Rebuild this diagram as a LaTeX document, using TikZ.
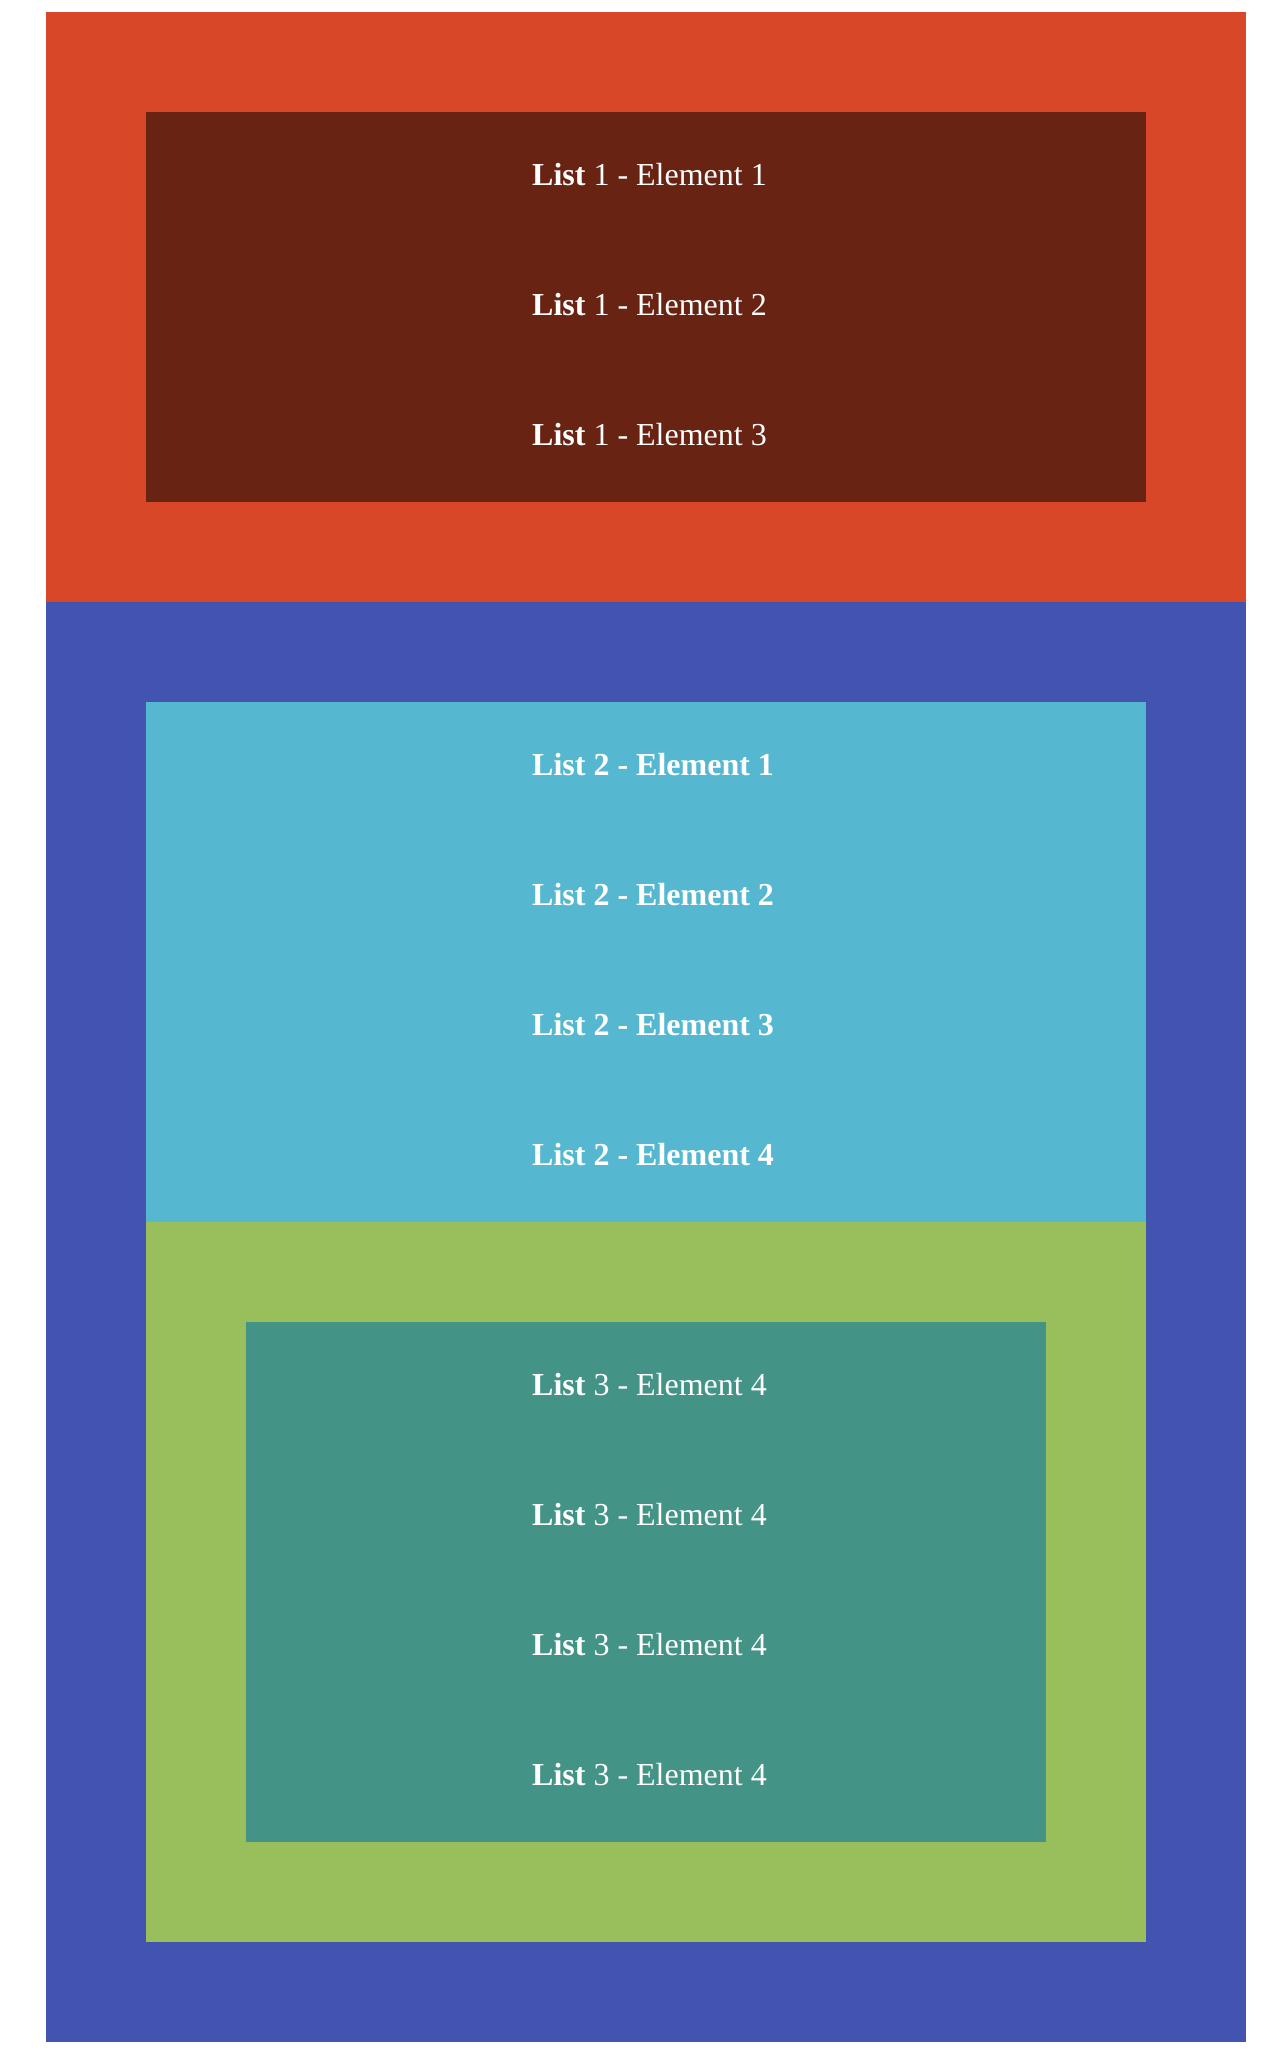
\documentclass[tikz,border=0pt]{standalone}
\usepackage{fontspec}
\setmainfont{Liberation Serif}
\definecolor{outerred}{HTML}{D84828}
\definecolor{darkbrown}{HTML}{682313}
\definecolor{indigoblue}{HTML}{4353B0}
\definecolor{skyblue}{HTML}{55B8D0}
\definecolor{leafgreen}{HTML}{98BF5C}
\definecolor{tealgreen}{HTML}{439387}
\begin{document}
\begin{tikzpicture}[x=1pt,y=-1pt,
  item/.style={anchor=base west,inner sep=0pt,text=white,font=\fontsize{32}{38}\selectfont},
  panel/.style={draw=none}]
\useasboundingbox (0,0) rectangle (1282,2056);
% list 1
\fill[outerred] (46,12) rectangle (1246,602);
\fill[darkbrown] (146,112) rectangle (1146,502);
% list 2 container
\fill[indigoblue] (46,602) rectangle (1246,2042);
\fill[skyblue] (146,702) rectangle (1146,1222);
\fill[leafgreen] (146,1222) rectangle (1146,1942);
\fill[tealgreen] (246,1322) rectangle (1046,1842);
% texts
\node[item] (a1) at (532,185.5) {\textbf{List} 1 - Element 1};
\node[item] (a2) at (532,315.5) {\textbf{List} 1 - Element 2};
\node[item] (a3) at (532,445.5) {\textbf{List} 1 - Element 3};
\node[item] (b1) at (532,775.5) {\textbf{List 2 - Element 1}};
\node[item] (b2) at (532,905.5) {\textbf{List 2 - Element 2}};
\node[item] (b3) at (532,1035.5) {\textbf{List 2 - Element 3}};
\node[item] (b4) at (532,1165.5) {\textbf{List 2 - Element 4}};
\node[item] (c1) at (532,1395.5) {\textbf{List} 3 - Element 4};
\node[item] (c2) at (532,1525.5) {\textbf{List} 3 - Element 4};
\node[item] (c3) at (532,1655.5) {\textbf{List} 3 - Element 4};
\node[item] (c4) at (532,1785.5) {\textbf{List} 3 - Element 4};
\end{tikzpicture}
\end{document}
